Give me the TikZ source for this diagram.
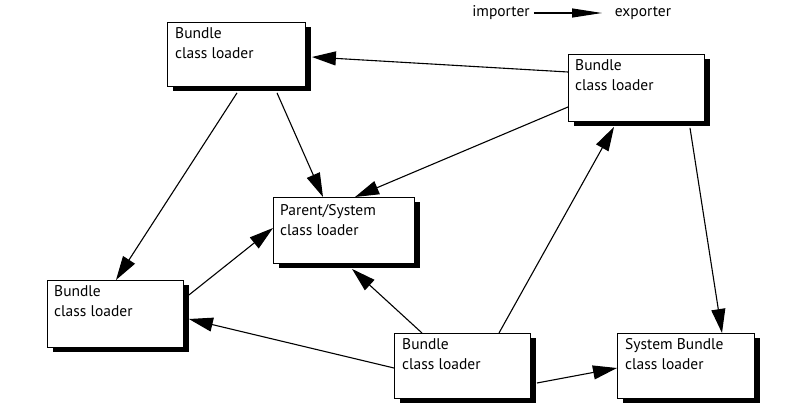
\documentclass[tikz,border=0pt]{standalone}
\usepackage{fontspec}
\setmainfont{PT Sans}
\usetikzlibrary{arrows.meta,calc}
\begin{document}
\begin{tikzpicture}[x=1pt,y=-1pt,
  box/.style={draw=black, line width=0.9pt, fill=white, anchor=north west, inner sep=0pt,
    preaction={fill=black, transform canvas={xshift=5.5pt,yshift=-5pt}}},
  lbl/.style={anchor=north west, inner sep=0pt, align=left, font=\fontsize{15.5}{20}\selectfont},
  conn/.style={line width=1.1pt, -{Triangle[length=24pt,width=14pt]}},
  legend/.style={inner sep=0pt, font=\fontsize{15.5}{20}\selectfont}]
\useasboundingbox (0,0) rectangle (789,415);
% boxes
\node[box, minimum width=138pt, minimum height=64pt] (A) at (167,22) {};
\node[box, minimum width=136pt, minimum height=67pt] (B) at (568,54) {};
\node[box, minimum width=141pt, minimum height=66pt] (C) at (273,197) {};
\node[box, minimum width=136pt, minimum height=67pt] (D) at (47,280) {};
\node[box, minimum width=136pt, minimum height=65pt] (E) at (394,333) {};
\node[box, minimum width=137pt, minimum height=65pt] (F) at (617,333) {};
% labels
\node[lbl] (At) at ([xshift=8pt,yshift=-5pt]A.north west) {Bundle\\class loader};
\node[lbl] (Bt) at ([xshift=7pt,yshift=-5pt]B.north west) {Bundle\\class loader};
\node[lbl] (Ct) at ([xshift=7pt,yshift=-7pt]C.north west) {Parent/System\\class loader};
\node[lbl] (Dt) at ([xshift=7pt,yshift=-5pt]D.north west) {Bundle\\class loader};
\node[lbl] (Et) at ([xshift=8pt,yshift=-5pt]E.north west) {Bundle\\class loader};
\node[lbl] (Ft) at ([xshift=8pt,yshift=-5pt]F.north west) {System Bundle\\class loader};
% connectors
\draw[conn] ([yshift=-18pt]B.north west) -- ([xshift=6pt,yshift=-35pt]A.north east);
\draw[conn] ([xshift=110pt,yshift=-6pt]A.south west) -- ([xshift=50pt]C.north west);
\draw[conn] ([xshift=70pt,yshift=-6pt]A.south west) -- ([xshift=69pt]D.north west);
\draw[conn] ([yshift=-53pt]B.north west) -- ([xshift=82pt]C.north west);
\draw[conn] ([xshift=122pt,yshift=-6pt]B.south west) -- ([xshift=105pt]F.north west);
\draw[conn] ([xshift=105pt]E.north west) -- ([xshift=46pt,yshift=-5pt]B.south west);
\draw[conn] ([xshift=28pt]E.north west) -- ([xshift=79pt,yshift=-5pt]C.south west);
\draw[conn] ([yshift=-35pt]E.north west) -- ([xshift=5pt,yshift=-39pt]D.north east);
\draw[conn] ([xshift=5pt,yshift=-15pt]D.north east) -- ([yshift=-31pt]C.north west);
\draw[conn] ([xshift=6pt,yshift=-50pt]E.north east) -- ([yshift=-35pt]F.north west);
% legend
\node[legend] (imp) at (501,13) {importer};
\node[legend] (exp) at (643,13) {exporter};
\coordinate (tip) at (602,13);
\draw[line width=1.1pt, -{Triangle[length=30pt,width=9pt]}] ([xshift=4pt]imp.east) -- (tip);
\end{tikzpicture}
\end{document}
